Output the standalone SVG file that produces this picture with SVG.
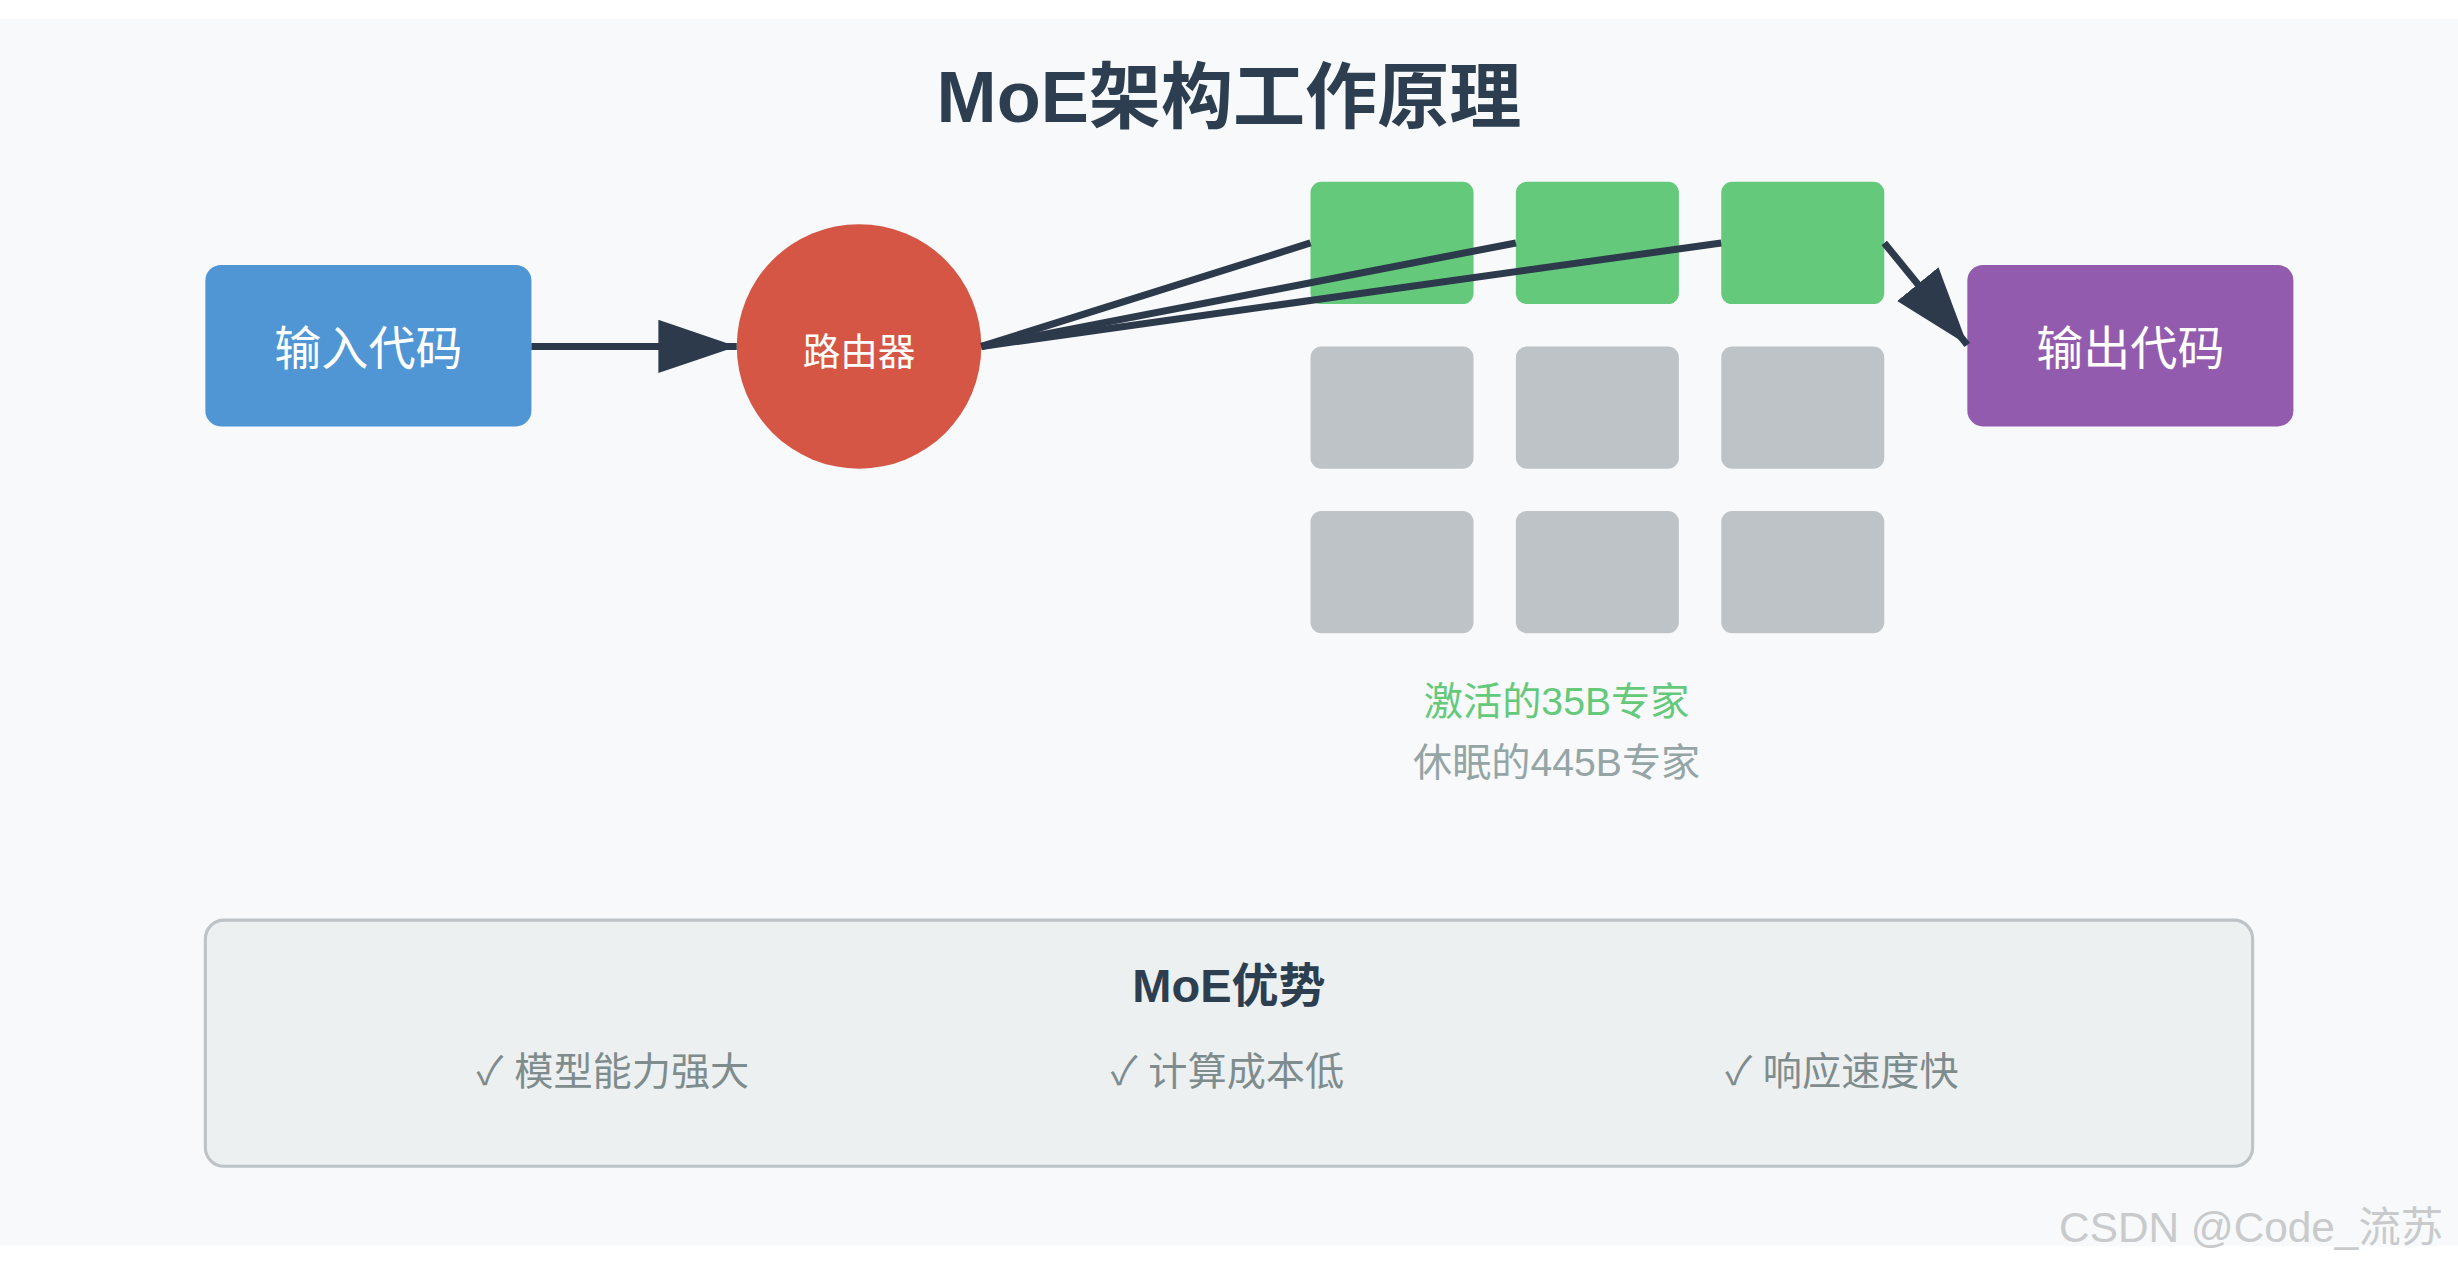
<svg xmlns="http://www.w3.org/2000/svg" width="2458" height="1266" viewBox="0 0 2458 1266">
<style>
.t{font-family:"Liberation Sans","Noto Sans CJK SC",sans-serif;text-anchor:middle}
.w{fill:#fff}
.g{fill:#64c97a}
.s{fill:#bec3c7}
.c{stroke:#2c3a4c;stroke-width:4.5;fill:none}
</style>
<defs>
<marker id="ah" markerUnits="userSpaceOnUse" markerWidth="52" markerHeight="36" refX="50" refY="17" orient="auto">
<path d="M0,0 L50,17 L0,34 z" fill="#2c3a4c"/>
</marker>
</defs>
<rect width="2458" height="1266" fill="#fff"/>
<g transform="scale(1.5676)">
<rect x="0" y="12" width="1568" height="783" fill="#f7f9fa"/>
<text class="t" x="784" y="78" font-size="46" font-weight="bold" fill="#2c3e50">MoE架构工作原理</text>
<g id="input"><rect x="131" y="169" width="208" height="103" rx="10" fill="#5096d5"/><text class="t w" x="235" y="233" font-size="30">输入代码</text></g>
<g id="router"><circle cx="548" cy="221" r="78" fill="#d55645"/><text class="t w" x="548" y="233" font-size="24">路由器</text></g>
<g id="experts">
<rect class="g" x="836" y="116" width="104" height="78" rx="7"/>
<rect class="g" x="967" y="116" width="104" height="78" rx="7"/>
<rect class="g" x="1098" y="116" width="104" height="78" rx="7"/>
<rect class="s" x="836" y="221" width="104" height="78" rx="7"/>
<rect class="s" x="967" y="221" width="104" height="78" rx="7"/>
<rect class="s" x="1098" y="221" width="104" height="78" rx="7"/>
<rect class="s" x="836" y="326" width="104" height="78" rx="7"/>
<rect class="s" x="967" y="326" width="104" height="78" rx="7"/>
<rect class="s" x="1098" y="326" width="104" height="78" rx="7"/>
</g>
<g id="output"><rect x="1255" y="169" width="208" height="103" rx="10" fill="#935bad"/><text class="t w" x="1359" y="233" font-size="30">输出代码</text></g>
<g id="connectors">
<line class="c" x1="339" y1="221" x2="470" y2="221" marker-end="url(#ah)"/>
<line class="c" x1="626" y1="221" x2="836" y2="155"/>
<line class="c" x1="626" y1="221" x2="967" y2="155"/>
<line class="c" x1="626" y1="221" x2="1098" y2="155"/>
<line class="c" x1="1202" y1="155" x2="1255" y2="220" marker-end="url(#ah)"/>
</g>
<text class="t" x="993" y="456" font-size="25" fill="#64c97a">激活的35B专家</text>
<text class="t" x="993" y="495" font-size="25" fill="#95a5a6">休眠的445B专家</text>
<g id="advantages">
<rect x="131" y="587" width="1306" height="157" rx="12" fill="#ecf0f1" stroke="#bdc3c7" stroke-width="2"/>
<text class="t" x="784" y="639" font-size="30" font-weight="bold" fill="#2c3e50">MoE优势</text>
<text class="t" x="391" y="692" font-size="25" fill="#7f8c8d">✓ 模型能力强大</text>
<text class="t" x="783" y="692" font-size="25" fill="#7f8c8d">✓ 计算成本低</text>
<text class="t" x="1175" y="692" font-size="25" fill="#7f8c8d">✓ 响应速度快</text>
</g>
<text class="t" x="1436" y="792" font-size="27" fill="#c8cacc">CSDN @Code_流苏</text>
</g>
</svg>
